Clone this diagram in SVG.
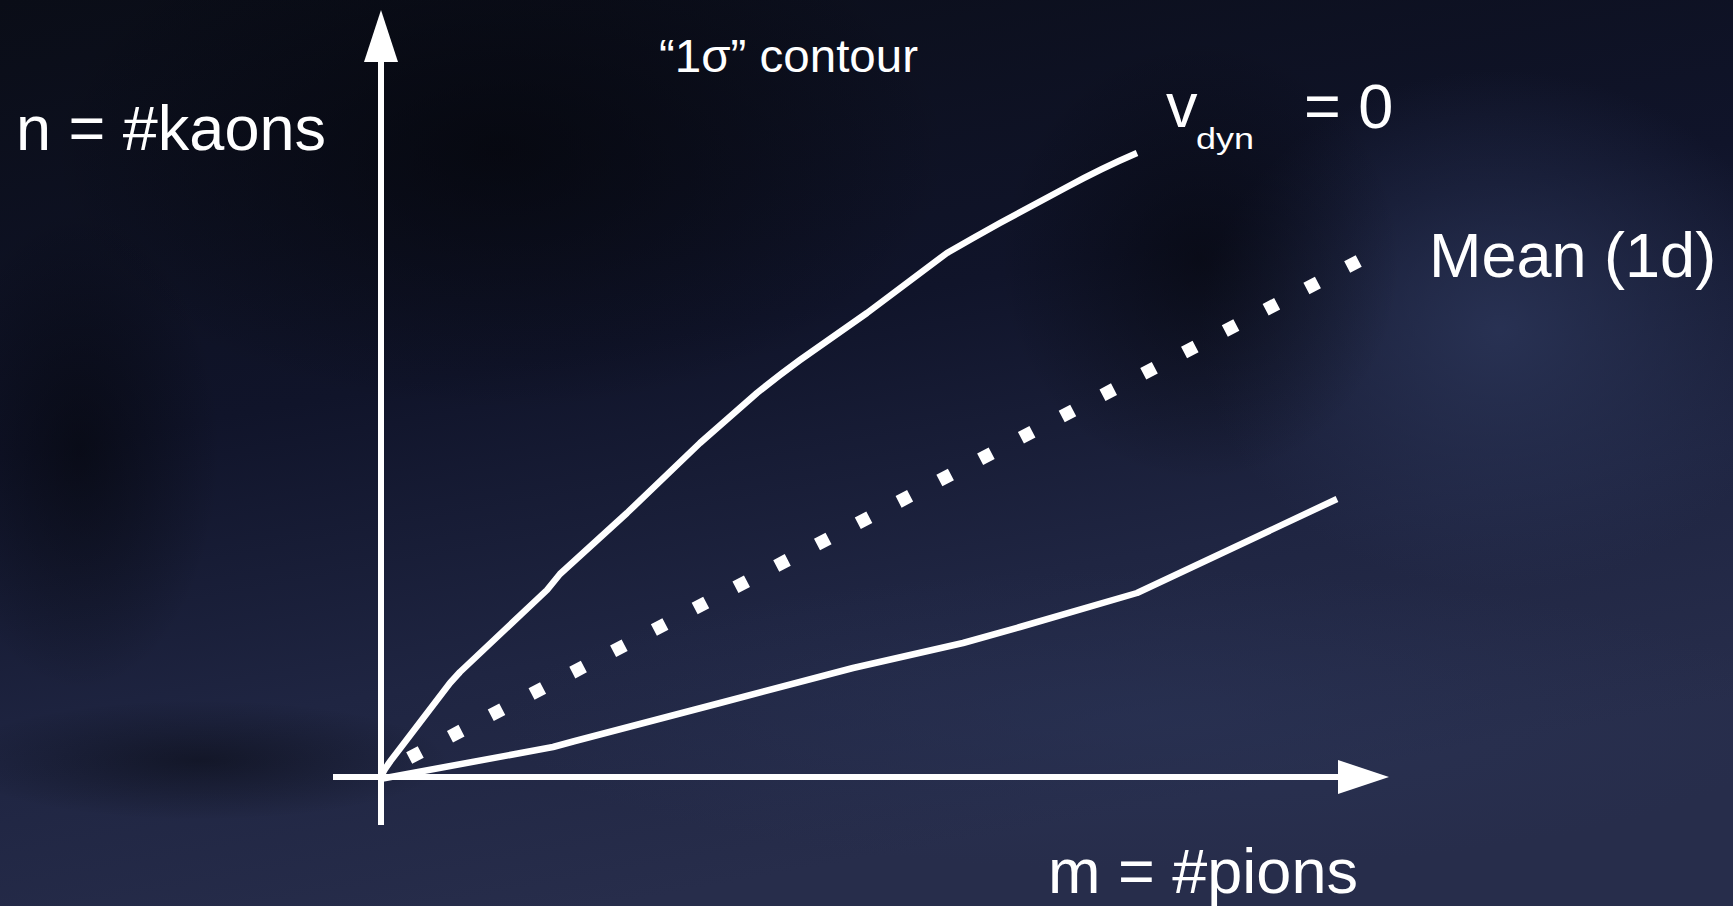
<svg xmlns="http://www.w3.org/2000/svg" width="1733" height="906" viewBox="0 0 1733 906">
<defs>
<linearGradient id="bg" x1="0" y1="0" x2="0.35" y2="1">
<stop offset="0" stop-color="#0a0d17"/>
<stop offset="0.45" stop-color="#10142a"/>
<stop offset="0.75" stop-color="#1f2542"/>
<stop offset="1" stop-color="#272d4b"/>
</linearGradient>
<radialGradient id="glowR" cx="0.5" cy="0.5" r="0.5">
<stop offset="0" stop-color="#2b3558" stop-opacity="0.85"/>
<stop offset="1" stop-color="#2b3558" stop-opacity="0"/>
</radialGradient>
<radialGradient id="dark" cx="0.5" cy="0.5" r="0.5">
<stop offset="0" stop-color="#030408" stop-opacity="0.9"/>
<stop offset="1" stop-color="#030408" stop-opacity="0"/>
</radialGradient>
<style>
.lbl{font-family:"Liberation Sans",Arial,sans-serif;fill:#ffffff}
.ax{stroke:#ffffff;stroke-width:6;fill:none}
.cv{stroke:#ffffff;stroke-width:6.5;fill:none;stroke-linejoin:round;stroke-linecap:butt}
.dot{stroke:#ffffff;stroke-width:13;fill:none;stroke-dasharray:13 33.03}
.head{fill:#ffffff}
</style>
</defs>
<g id="background">
<rect width="1733" height="906" fill="url(#bg)"/>
<ellipse cx="1500" cy="330" rx="300" ry="260" fill="url(#glowR)"/>
<ellipse cx="1150" cy="720" rx="650" ry="150" fill="url(#glowR)" opacity="0.6"/>
<ellipse cx="500" cy="150" rx="450" ry="260" fill="url(#dark)" opacity="0.7"/>
<ellipse cx="1200" cy="260" rx="200" ry="220" fill="url(#dark)" opacity="0.6"/>
<ellipse cx="80" cy="450" rx="140" ry="240" fill="url(#dark)" opacity="0.6"/>
<ellipse cx="200" cy="760" rx="250" ry="60" fill="url(#dark)" opacity="0.5"/>
</g>
<g id="connectors">
<line class="ax" x1="381" y1="825" x2="381" y2="58"/>
<polygon class="head" points="381,10 364,62 398,62"/>
<line class="ax" x1="333" y1="777" x2="1342" y2="777"/>
<polygon class="head" points="1389,777 1338,760 1338,794"/>
<path id="upper" class="cv" d="M380,778 Q385,768 392,759 L405,742 L450,683 L460,672 L547,590 L560,574 L627,513 L700,443 L757,393 Q778,376 800,360 L867,313 L947,253 Q973,238 1000,223 L1067,187 Q1102,168 1137,153"/>
<path id="lower" class="cv" d="M380,779 L553,747 Q564,744 575,741 L720,703 L853,668 L963,643 L1020,627 L1137,593 L1337,499"/>
<path id="mean" class="dot" d="M409.2,758.0 L1358.8,261.0"/>
</g>
<g id="label-n"><text class="lbl" x="16" y="150" font-size="63">n = #kaons</text></g>
<g id="label-contour"><text class="lbl" x="659" y="72" font-size="46" textLength="259" lengthAdjust="spacingAndGlyphs">“1σ” contour</text></g>
<g id="label-vdyn">
<text class="lbl" x="1166" y="127" font-size="63">v</text>
<text class="lbl" x="1196" y="149" font-size="30" textLength="58" lengthAdjust="spacingAndGlyphs">dyn</text>
<text class="lbl" x="1304" y="128" font-size="63">= 0</text>
</g>
<g id="label-mean"><text class="lbl" x="1429" y="277" font-size="63">Mean (1d)</text></g>
<g id="label-m"><text class="lbl" x="1048" y="893" font-size="63">m = #pions</text></g>
</svg>
